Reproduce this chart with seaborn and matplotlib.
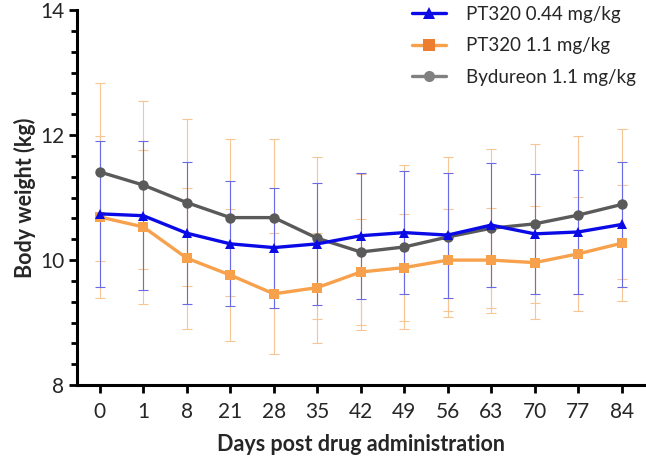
import matplotlib
matplotlib.use("Agg")
import matplotlib.pyplot as plt
import numpy as np
import pandas as pd
import seaborn as sns
from matplotlib.ticker import AutoMinorLocator
from matplotlib.lines import Line2D

# -----------------------------
# Data
# -----------------------------
days = ["0", "1", "8", "21", "28", "35", "42", "49", "56", "63", "70", "77", "84"]

pt320_044 = [10.74, 10.71, 10.43, 10.26, 10.20, 10.26, 10.39, 10.44, 10.40, 10.56, 10.42, 10.45, 10.57]
pt320_044_sd = [1.17, 1.19, 1.14, 1.00, 0.96, 0.98, 1.01, 0.98, 1.00, 0.99, 0.96, 0.99, 1.00]

pt320_11 = [10.69, 10.53, 10.03, 9.76, 9.46, 9.56, 9.81, 9.88, 10.00, 10.00, 9.96, 10.10, 10.27]
pt320_11_sd = [1.30, 1.23, 1.13, 1.06, 0.97, 0.88, 0.85, 0.85, 0.81, 0.84, 0.90, 0.91, 0.93]

bydureon = [11.41, 11.20, 10.92, 10.68, 10.68, 10.35, 10.13, 10.21, 10.37, 10.51, 10.58, 10.72, 10.89]
bydureon_sd = [1.42, 1.34, 1.33, 1.26, 1.26, 1.30, 1.25, 1.31, 1.28, 1.27, 1.27, 1.27, 1.20]

groups = ["PT320 0.44 mg/kg", "PT320 1.1 mg/kg", "Bydureon 1.1 mg/kg"]
colors = {"PT320 0.44 mg/kg": "#0a0ae6",
          "PT320 1.1 mg/kg": "#f7a14c",
          "Bydureon 1.1 mg/kg": "#5a5a5a"}
markers = {"PT320 0.44 mg/kg": "^",
           "PT320 1.1 mg/kg": "s",
           "Bydureon 1.1 mg/kg": "o"}

pos = np.arange(len(days))
df = pd.concat([
    pd.DataFrame({"pos": pos, "day": days, "weight": pt320_044, "sd": pt320_044_sd, "group": groups[0]}),
    pd.DataFrame({"pos": pos, "day": days, "weight": pt320_11, "sd": pt320_11_sd, "group": groups[1]}),
    pd.DataFrame({"pos": pos, "day": days, "weight": bydureon, "sd": bydureon_sd, "group": groups[2]}),
])

sns.set_style("ticks")
plt.rcParams["font.family"] = ["Lato", "DejaVu Sans"]

fig, ax = plt.subplots(figsize=(6.46, 4.59), dpi=100)
fig.subplots_adjust(left=0.119, right=0.998, top=0.978, bottom=0.161)

# error bars (SD)
err_colors = {groups[0]: "#6a6ae6", groups[1]: "#f5c594", groups[2]: "#f5c594"}
for g in groups[::-1]:
    sub = df[df["group"] == g]
    ax.errorbar(sub["pos"], sub["weight"], yerr=sub["sd"], fmt="none",
                ecolor=err_colors[g], elinewidth=0.8, capsize=3.8, capthick=0.8,
                zorder=1)

# lines, drawn gray -> orange -> blue so blue ends up on top
for i, g in enumerate(groups[::-1]):
    sub = df[df["group"] == g]
    sns.lineplot(data=sub, x="pos", y="weight", color=colors[g], marker=markers[g],
                 markersize=7.5, markeredgewidth=0, linewidth=2.4, ax=ax,
                 zorder=3 + i, legend=False)

ax.set_xlim(-0.53, 12.53)
ax.set_ylim(8, 14)
ax.set_xticks(pos)
ax.set_xticklabels(days)
ax.set_yticks([8, 10, 12, 14])
ax.yaxis.set_minor_locator(AutoMinorLocator(6))

ax.set_xlabel("Days post drug administration", fontsize=15.5, fontweight="bold", labelpad=9)
ax.set_ylabel("Body weight (kg)", fontsize=15.5, fontweight="bold", labelpad=3)

ax.tick_params(axis="both", which="major", labelsize=15, width=2, length=6, color="black")
ax.tick_params(axis="y", which="minor", width=2, length=4, color="black")
ax.tick_params(axis="x", pad=6)
ax.tick_params(axis="y", pad=3)
for side in ["left", "bottom"]:
    ax.spines[side].set_linewidth(2.2)
    ax.spines[side].set_color("black")
sns.despine(ax=ax)

handles = [Line2D([], [], color=colors[g], marker=markers[g], markersize=8,
                  markeredgewidth=0, linewidth=2.4) for g in groups]
handles[1].set_markerfacecolor("#ed7d31")
handles[2].set_markerfacecolor("#808080")
handles[2].set_color("#808080")
ax.legend(handles, groups, loc="upper right", bbox_to_anchor=(1.015, 1.057), frameon=False,
          fontsize=13.5, handlelength=1.8, handletextpad=1.1, labelspacing=0.78)

fig.savefig("out.png", dpi=100)
